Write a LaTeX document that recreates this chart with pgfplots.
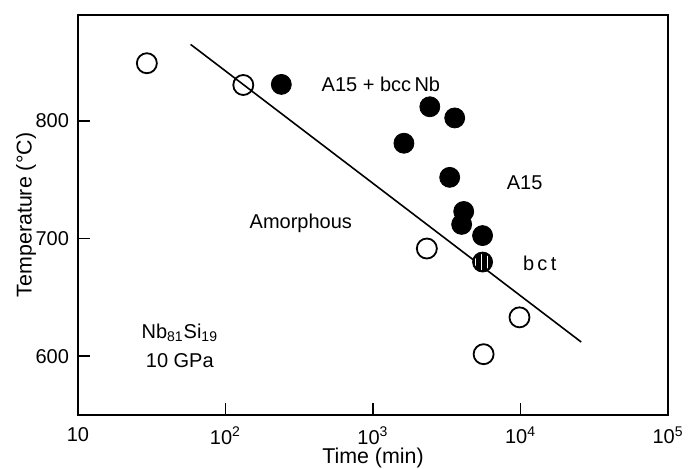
\documentclass[border=0pt]{standalone}
\usepackage{fontspec}
\setmainfont{Liberation Sans}
\usepackage{pgfplots}
\pgfplotsset{compat=1.18}
\usetikzlibrary{patterns}

\begin{document}
\begin{tikzpicture}
\path[use as bounding box] (-39pt,-27pt) rectangle (305.5pt,207.5pt);
\begin{axis}[
  scale only axis,
  width=295pt, height=200pt,
  xmode=log, xmin=10, xmax=1e5,
  ymin=550, ymax=890,
  axis line style={line width=0.9pt},
  tick style={line width=0.8pt, black},
  major tick length=6pt,
  tick align=inside,
  tick pos=left,
  xminorticks=false,
  xtick={10,100,1000,10000,100000},
  xticklabels={10,10\textsuperscript{2},10\textsuperscript{3},10\textsuperscript{4},10\textsuperscript{5}},
  ytick={600,700,800},
  yticklabels={600,700,800},
  tick label style={font=\fontsize{10}{12}\selectfont},
  xticklabel style={yshift=-2.5pt},
  yticklabel style={xshift=-1pt},
  label style={font=\fontsize{10.7}{13}\selectfont},
  xlabel={Time (min)},
  ylabel={Temperature (°C)},
  xlabel style={at={(axis description cs:0.5,-0.108)}, anchor=center},
  ylabel style={at={(axis description cs:-0.088,0.5)}, anchor=center},
]
% boundary line
\addplot[black, line width=0.8pt] coordinates {(58,865) (25800,612)};

% amorphous (open)
\addplot[only marks, mark=o, mark size=5pt, mark options={line width=0.9pt, black}] coordinates {
  (29.3,849) (132,830.5) (2317,691.5) (9840,633) (5620,601.7)
};

% A15 (filled)
\addplot[only marks, mark=*, mark size=5pt, mark options={black, fill=black}] coordinates {
  (239,831) (2427,812) (3580,802.5) (1620,781) (3311,752)
  (4120,723) (3990,712) (5530,702.5)
};

% bct (hatched)
\addplot[only marks, mark=*, mark size=5pt, mark options={black, fill=black}] coordinates {(5530,680)};
\addplot[only marks, mark=*, mark size=4.3pt, mark options={draw=none, pattern=vertical lines, pattern color=white}] coordinates {(5530,680)};

\begin{scope}[font=\fontsize{10}{12}\selectfont]
\node[anchor=west, inner sep=0pt] at (axis cs:446,831) {A15 + bcc\,Nb};
\node[anchor=west, inner sep=0pt] at (axis cs:8035,747.5) {A15};
\node[anchor=west, inner sep=0pt] at (axis cs:10330,679) {b\,c\,t};
\node[anchor=west, inner sep=0pt] at (axis cs:145,712.7) {Amorphous};
\node at (axis cs:49,619.5) {Nb\textsubscript{81}Si\textsubscript{19}};
\node at (axis cs:49,596.6) {10 GPa};
\end{scope}
\end{axis}
\end{tikzpicture}
\end{document}
